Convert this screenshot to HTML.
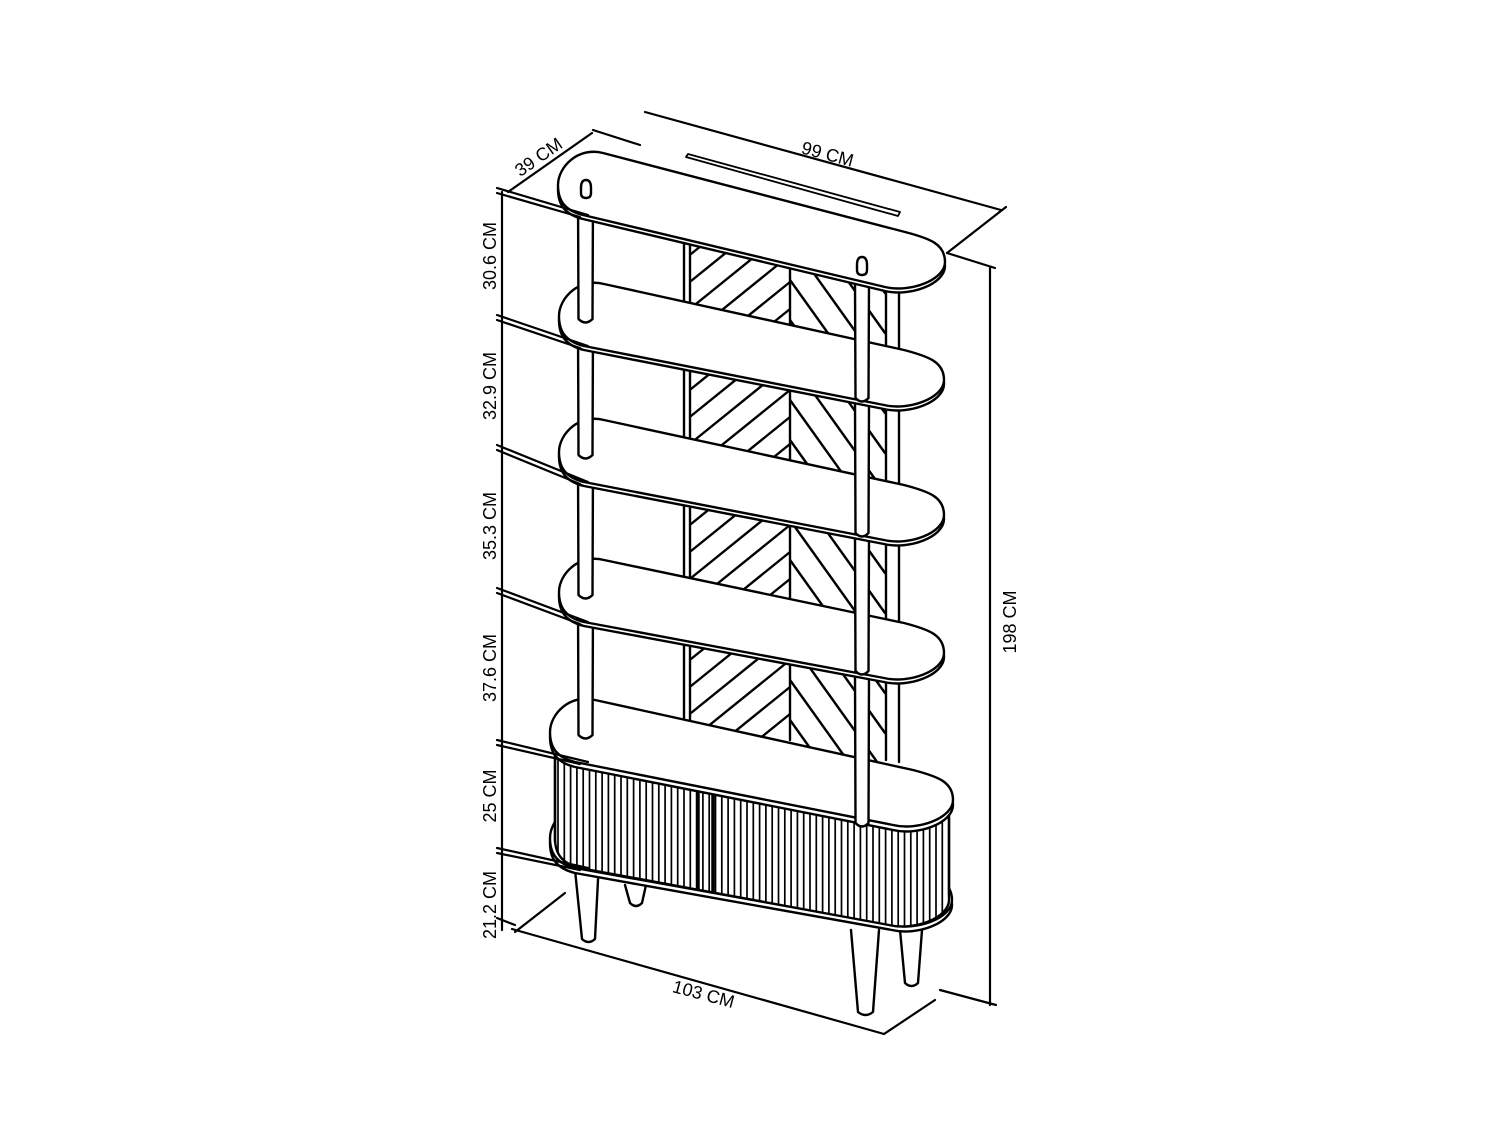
<!DOCTYPE html>
<html><head><meta charset="utf-8"><style>
html,body{margin:0;padding:0;background:#fff;}
svg{display:block;}
text{font-family:"Liberation Sans",sans-serif;font-size:18px;fill:#000;}
</style></head><body>
<svg id="s" width="1500" height="1127" viewBox="0 0 1500 1127" xmlns="http://www.w3.org/2000/svg">
<defs>
<clipPath id="bp"><rect x="691" y="225" width="194" height="540"/></clipPath>
</defs>
<g id="g" fill="none" stroke="#000" stroke-width="2.4" stroke-linecap="round" stroke-linejoin="round"></g>
<g id="t">
<text transform="translate(826,160) rotate(15)" text-anchor="middle">99 CM</text>
<text transform="translate(542,162) rotate(-35)" text-anchor="middle">39 CM</text>
<text transform="translate(1016,622) rotate(-90)" text-anchor="middle">198 CM</text>
<text transform="translate(496,256) rotate(-90)" text-anchor="middle">30.6 CM</text>
<text transform="translate(496,386) rotate(-90)" text-anchor="middle">32.9 CM</text>
<text transform="translate(496,526) rotate(-90)" text-anchor="middle">35.3 CM</text>
<text transform="translate(496,668) rotate(-90)" text-anchor="middle">37.6 CM</text>
<text transform="translate(496,796) rotate(-90)" text-anchor="middle">25 CM</text>
<text transform="translate(496,905) rotate(-90)" text-anchor="middle">21.2 CM</text>
<text transform="translate(702,1000) rotate(15)" text-anchor="middle">103 CM</text>
</g>
</svg>
<script>
var g=document.getElementById('g');var out='';
function P(d,fill,sw,extra){out+='<path d="'+d+'"'+(fill?' fill="'+fill+'"':'')+(sw?' stroke-width="'+sw+'"':'')+(extra||'')+'/>';}
function Ln(a,b,c,d,sw,extra){out+='<line x1="'+a+'" y1="'+b+'" x2="'+c+'" y2="'+d+'"'+(sw?' stroke-width="'+sw+'"':'')+(extra||'')+'/>';}
function pts(Lx,Ly,Rx,Ry){return{L:[Lx,Ly],T1:[Lx+45,Ly-32],B1:[Lx+25,Ly+30],T2:[Rx-40,Ry-30],B2:[Rx-60,Ry+25],R:[Rx,Ry]};}
function shelfD(Lx,Ly,Rx,Ry){var p=pts(Lx,Ly,Rx,Ry),L=p.L,T1=p.T1,B1=p.B1,T2=p.T2,B2=p.B2,R=p.R;
return 'M'+L+' C'+L[0]+','+(L[1]-18)+' '+(T1[0]-25)+','+(T1[1]-6.5)+' '+T1+' L'+T2+' C'+(T2[0]+25)+','+(T2[1]+6.5)+' '+R[0]+','+(R[1]-18)+' '+R+' C'+R[0]+','+(R[1]+18)+' '+(B2[0]+25)+','+(B2[1]+6)+' '+B2+' L'+B1+' C'+(B1[0]-18)+','+(B1[1]-4.5)+' '+L[0]+','+(L[1]+16)+' '+L+'Z';}
function frontD(Lx,Ly,Rx,Ry){var p=pts(Lx,Ly,Rx,Ry),L=p.L,B1=p.B1,B2=p.B2,R=p.R;
return {f:'M'+L+' C'+L[0]+','+(L[1]+16)+' '+(B1[0]-18)+','+(B1[1]-4.5)+' '+B1+' L'+B2+' C'+(B2[0]+25)+','+(B2[1]+6)+' '+R[0]+','+(R[1]+18)+' '+R,
 r:'L'+R+' C'+R[0]+','+(R[1]+18)+' '+(B2[0]+25)+','+(B2[1]+6)+' '+B2+' L'+B1+' C'+(B1[0]-18)+','+(B1[1]-4.5)+' '+L[0]+','+(L[1]+16)+' '+L};}
function shelf(Lx,Ly,Rx,Ry,th){th=th||5;P(shelfD(Lx,Ly+th,Rx,Ry+th),'#fff');P(shelfD(Lx,Ly,Rx,Ry),'#fff');}
function post(x1,x2,yt,yb){P('M'+x1+','+yt+' L'+(x1+0.5)+','+(yb-4)+' Q'+((x1+x2)/2)+','+(yb+3)+' '+(x2-0.5)+','+(yb-4)+' L'+x2+','+yt,'#fff');}
function leg(a,b,c,d,y1,y2){P('M'+a+','+y1+' L'+c+','+(y2-3)+' Q'+((c+d)/2)+','+(y2+3)+' '+d+','+(y2-3)+' L'+b+','+y1,'#fff');}
Ln(684,235,684,718);Ln(690,238,690,720);Ln(790,250,790,740);
out+='<g clip-path="url(#bp)"><g><clipPath id="lh"><rect x="691" y="225" width="99" height="540"/></clipPath></g>';
var l='',r='';
for(var y=200;y<820;y+=27){l+='<line x1="691" y1="'+(y)+'" x2="790" y2="'+(y-80)+'"/>';}
for(var y=160;y<820;y+=40){r+='<line x1="790" y1="'+(y)+'" x2="885" y2="'+(y+133)+'"/>';}
out+='<g clip-path="url(#lh)">'+l+'</g><g><clipPath id="rh"><rect x="790" y="225" width="95" height="540"/></clipPath></g><g clip-path="url(#rh)">'+r+'</g></g>';
Ln(886,285,886,760);Ln(899,288,899,762);
leg(625,646,630,642,885,906);leg(900,922,905,918,930,986);
leg(574,599,582,595,860,942);leg(851,879,858,873,930,1015);
shelf(550,838,952,900,5);
var ft=frontD(555,735,949,803),fb=frontD(555,838,949,900);
out+='<clipPath id="body"><path d="'+ft.f+' L949,900 '+fb.r.replace(/^L[^ ]+ /,'')+' Z"/></clipPath>';
P(ft.f+' L949,900 '+fb.r.replace(/^L[^ ]+ /,'')+' Z','#fff');
var fl='';for(var x=558;x<948;x+=6.3){fl+='<line x1="'+x.toFixed(1)+'" y1="700" x2="'+x.toFixed(1)+'" y2="960" stroke-width="1.7"/>';}
out+='<g clip-path="url(#body)">'+fl+'<line x1="698" y1="700" x2="698" y2="960" stroke-width="3.5"/><line x1="713" y1="700" x2="713" y2="960" stroke-width="3.5"/></g>';
Ln(555,755,555,842);Ln(949,818,949,895);
shelf(550,732,953,800,5);
var S=[[558,185,945,262],[559,316,944,380],[559,452,944,515],[559,592,944,653],[550,732,953,800]];
for(var k=3;k>=0;k--){var a=S[k],b=S[k+1];
 post(578,593,a[1]+10,b[1]+7);post(855,869,a[3]+20,b[3]+(k==3?27:22));
 shelf(a[0],a[1],a[2],a[3],4);}
P('M581,188 Q581,180 586,180 Q591,180 591,188 L591,193 Q591,198 586,198 Q581,198 581,193 Z','#fff');
P('M857,265 Q857,257 862,257 Q867,257 867,265 L867,270 Q867,275 862,275 Q857,275 857,270 Z','#fff');
P('M686,157 L688,154 L900,212 L898,216 Z','#fff',1.8);
var ext=[188,315,445,588,740,848];
ext.forEach(function(y,i){var by=S[Math.min(i,4)][1]+30;if(i==5)by=868;Ln(497,y,588,by,2.2);Ln(497,y+5,580,by+2,2.2);});
Ln(502,192,502,930,2.2);
Ln(497,918,515,925,2.2);
Ln(508,192,592,133,2.2);Ln(593,130,640,145,2.2);
Ln(645,112,1001,210,2.2);Ln(1006,207,947,253,2.2);Ln(947,253,995,268,2.2);
Ln(990,268,990,1005,2.2);Ln(940,990,996,1005,2.2);
Ln(512,929,884,1034,2.2);Ln(515,932,565,893,2.2);Ln(884,1034,935,1000,2.2);
g.innerHTML=out;
</script>
</body></html>
